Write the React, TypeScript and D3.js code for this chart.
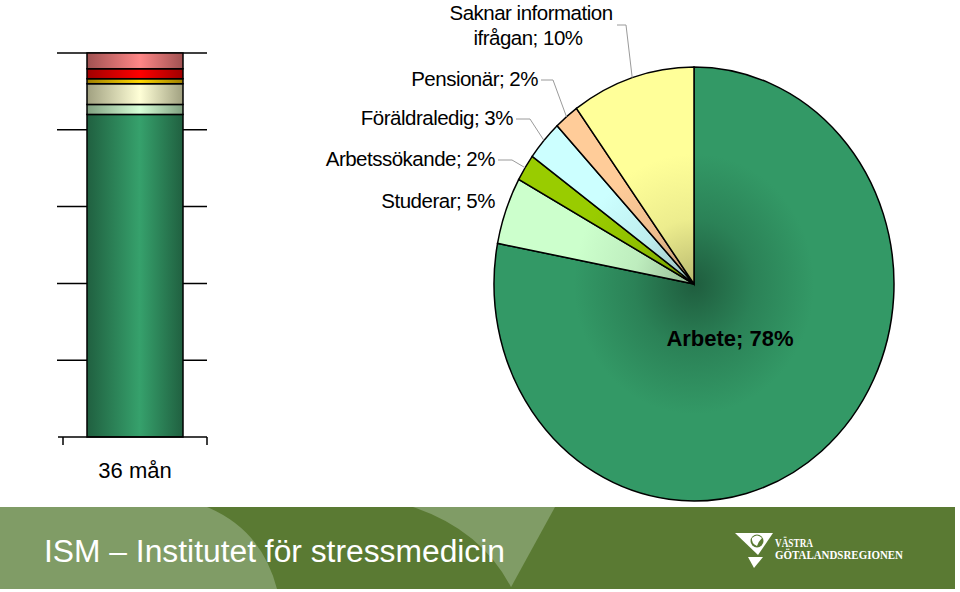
import * as d3 from "d3";

// pie: sysselsättning
const pieCategories = ["Arbete", "Studerar", "Arbetssökande", "Föräldraledig", "Pensionär", "Saknar information ifrågan"];
const pieValues = [78, 5, 2, 3, 2, 10];
const pieColors = ["#339966", "#CCFFCC", "#99CC00", "#CCFFFF", "#FFCC99", "#FFFF99"];

// stacked 100% bar, bottom to top
const barCategories = ["36 mån"];
const barSegments = ["Kategori 1", "Kategori 2", "Kategori 3", "Kategori 4", "Kategori 5", "Kategori 6"];
const barValues = [84, 2.6, 5.4, 1.3, 2.6, 4.1];
const barColors = ["#339966", "#CCFFCC", "#FFFFCC", "#FFCC00", "#FF0000", "#FF8080"];
const yTicks = [0, 20, 40, 60, 80, 100];

const W = 960,
  H = 592;

// label placement for the pie (anchor x, baseline y, elbow x of leader)
const labelPos = [
  { x: 730, y: 346, elbow: null },
  { x: 495, y: 208, elbow: null },
  { x: 495, y: 166, elbow: 512 },
  { x: 513, y: 125, elbow: 530 },
  { x: 538, y: 86, elbow: 553 },
  { x: 531, y: 19.5, elbow: 626 },
];

export default function App() {
  // bar chart
  const x = d3.scaleBand().domain(barCategories).range([63, 207]).padding(0.2);
  const y = d3.scaleLinear().domain([0, 100]).range([437, 53]);
  const stacked: { y0: number; y1: number }[] = [];
  let acc = 0;
  barValues.forEach((v) => {
    stacked.push({ y0: acc, y1: acc + v });
    acc += v;
  });

  // pie chart
  const cx = 694,
    cy = 284,
    R = 200,
    ky = 217 / 200;
  const pie = d3.pie<number>().sort(null).startAngle(0).endAngle(2 * Math.PI);
  const arcs = pie(pieValues);
  const arc = d3.arc<d3.PieArcDatum<number>>().innerRadius(0).outerRadius(R);
  const onEdge = (a: number) => [cx + R * Math.sin(a), cy - R * ky * Math.cos(a)];

  const font = "'Liberation Sans', Arial, sans-serif";

  return (
    <svg width={W} height={H} style={{ position: "absolute", left: 0, top: 0, background: "#fff" }}>
      <defs>
        {barColors.map((c, i) => {
          const base = d3.color(c)!;
          return (
            <linearGradient key={i} id={`bg-${i}`} x1="0" x2="1" y1="0" y2="0">
              <stop offset="0" stopColor={base.darker(1.3).formatHex()} />
              <stop offset="0.55" stopColor={base.brighter(0.15).formatHex()} />
              <stop offset="1" stopColor={base.darker(1.3).formatHex()} />
            </linearGradient>
          );
        })}
        {pieColors.map((c, i) => {
          const base = d3.color(c)!;
          return (
            <radialGradient key={i} id={`pg-${i}`} gradientUnits="userSpaceOnUse" cx="0" cy="0" r={R}>
              <stop offset="0" stopColor={base.darker(i === 0 ? 1.4 : 0.9).formatHex()} />
              <stop offset="0.3" stopColor={base.darker(i === 0 ? 0.45 : 0.2).formatHex()} />
              <stop offset="0.6" stopColor={base.formatHex()} />
              <stop offset="1" stopColor={base.formatHex()} />
            </radialGradient>
          );
        })}
      </defs>

      {/* gridlines */}
      {yTicks.slice(1).map((t) => (
        <line key={t} x1={57} x2={207} y1={y(t)} y2={y(t)} stroke="#000" strokeWidth={1.5} />
      ))}
      {/* stacked bar */}
      {stacked.map((s, i) => (
        <rect
          key={barSegments[i]}
          x={x(barCategories[0])}
          width={x.bandwidth()}
          y={y(s.y1)}
          height={y(s.y0) - y(s.y1)}
          fill={`url(#bg-${i})`}
          stroke="#000"
          strokeWidth={1.5}
        />
      ))}
      {/* category axis */}
      <line x1={58} x2={207} y1={y(0)} y2={y(0)} stroke="#000" strokeWidth={1.5} />
      {x.range().map((r) => (
        <line key={r} x1={r} x2={r} y1={y(0)} y2={y(0) + 8} stroke="#000" strokeWidth={1.5} />
      ))}
      <text
        x={x(barCategories[0])! + x.bandwidth() / 2}
        y={478}
        textAnchor="middle"
        fontFamily={font}
        fontSize={22}
        fill="#000"
      >
        {barCategories[0]}
      </text>

      {/* pie */}
      <g transform={`translate(${cx},${cy}) scale(1,${ky})`}>
        {arcs.map((a, i) => (
          <path
            key={pieCategories[i]}
            d={arc(a)!}
            fill={`url(#pg-${i})`}
            stroke="#000"
            strokeWidth={1.5}
            vectorEffect="non-scaling-stroke"
          />
        ))}
      </g>

      {/* leader lines */}
      {arcs.map((a, i) => {
        const lp = labelPos[i];
        if (lp.elbow == null) return null;
        const [px, py] = onEdge((a.startAngle + a.endAngle) / 2);
        const ly = i === 5 ? 25 : lp.y - 6;
        const lx = i === 5 ? 617 : lp.x + 3;
        return (
          <polyline
            key={i}
            points={`${lx},${ly} ${lp.elbow},${ly} ${px},${py}`}
            fill="none"
            stroke="#9a9a9a"
            strokeWidth={1}
          />
        );
      })}

      {/* labels */}
      {arcs.map((a, i) => {
        const lp = labelPos[i];
        const txt = `${pieCategories[i]}; ${pieValues[i]}%`;
        if (i === 0) {
          return (
            <text key={i} x={lp.x} y={lp.y} textAnchor="middle" fontFamily={font} fontWeight="bold" fontSize={22} fill="#000">
              {txt}
            </text>
          );
        }
        if (i === 5) {
          return (
            <text key={i} x={lp.x} y={lp.y} textAnchor="middle" fontFamily={font} fontSize={20.5} letterSpacing={-0.5} fill="#000">
              <tspan x={lp.x}>Saknar information</tspan>
              <tspan x={lp.x - 3} dy={25.5}>{`ifrågan; ${pieValues[i]}%`}</tspan>
            </text>
          );
        }
        return (
          <text key={i} x={lp.x} y={lp.y} textAnchor="end" fontFamily={font} fontSize={20.5} letterSpacing={-0.5} fill="#000">
            {txt}
          </text>
        );
      })}

      {/* footer banner */}
      <rect x={0} y={507} width={955} height={82} fill="#809c66" />
      <path d="M207,507 Q262,530 277,589 L512,589 Q482,530 413,507 Z" fill="#5a7a33" />
      <path d="M555,507 L955,507 L955,589 L510,589 Z" fill="#5a7a33" />
      <text x={44} y={562} fontFamily={font} fontSize={31} fill="#fff" textLength={461} lengthAdjust="spacingAndGlyphs">
        ISM – Institutet för stressmedicin
      </text>
      {/* logo */}
      <path d="M735,533 L773,533 L758,555 Z" fill="#fff" />
      <circle cx={757} cy={541} r={6.5} fill="#5a7a33" />
      <path d="M752,538 Q757,533 762,538 Q758,542 757,546 Q751,543 752,538 Z" fill="#fff" />
      <path d="M748,557 L763,557 L754,568 Z" fill="#fff" />
      <text x={775} y={547} fontFamily="'Liberation Serif', serif" fontWeight="bold" fontSize={11.5} fill="#fff" textLength={38} lengthAdjust="spacingAndGlyphs">
        VÄSTRA
      </text>
      <text x={775} y={558.5} fontFamily="'Liberation Serif', serif" fontWeight="bold" fontSize={11.5} fill="#fff" textLength={128} lengthAdjust="spacingAndGlyphs">
        GÖTALANDSREGIONEN
      </text>
    </svg>
  );
}
